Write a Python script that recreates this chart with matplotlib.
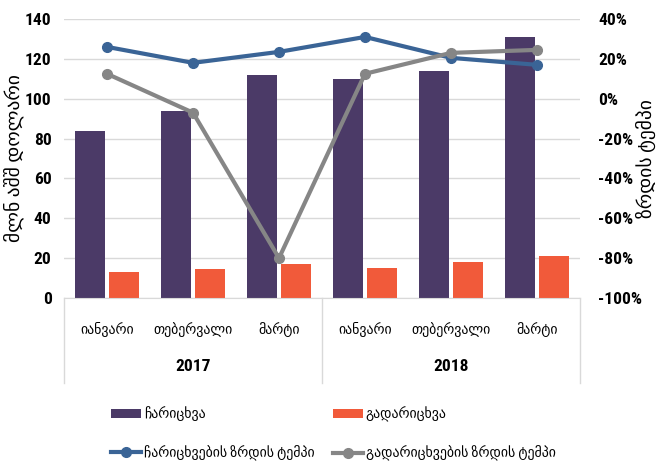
import matplotlib
matplotlib.use("Agg")
import matplotlib.pyplot as plt
from matplotlib import font_manager as fm
import numpy as np

installed = {f.name for f in fm.fontManager.ttflist}
num_font = next((n for n in ["Roboto Condensed", "PT Sans Narrow", "Archivo Narrow",
                             "Liberation Sans Narrow", "Liberation Sans"] if n in installed),
                "DejaVu Sans")
plt.rcParams['font.family'] = [num_font, 'DejaVu Sans']
plt.rcParams['font.size'] = 10

months = ["იანვარი", "თებერვალი", "მარტი", "იანვარი", "თებერვალი", "მარტი"]
years = ["2017", "2018"]
inflow = [84, 94, 112, 110, 114, 131]
outflow = [13, 14.5, 17, 15, 18, 21]
inflow_growth = [26, 18, 23.5, 31, 20.5, 17]
outflow_growth = [12.5, -7, -80, 12.5, 23, 24.5]

purple = "#4B3A67"
orange = "#F15A3A"
blue = "#3A6496"
gray = "#868686"

fig = plt.figure(figsize=(6.57, 4.70), dpi=100)
ax = fig.add_axes([64/657, 1-298/470, (580-64)/657, (298-19)/470])
ax2 = ax.twinx()

x = np.arange(len(months))
w = 0.35
b1 = ax.bar(x - 0.2, inflow, w, color=purple, zorder=2)
b2 = ax.bar(x + 0.2, outflow, w, color=orange, zorder=2)
l1, = ax2.plot(x, inflow_growth, color=blue, lw=3, marker="o", ms=7)
l2, = ax2.plot(x, outflow_growth, color=gray, lw=3, marker="o", ms=7)

ax.set_xlim(-0.5, 5.5)
ax.set_ylim(0, 140)
ax.set_yticks(range(0, 141, 20))
ax2.set_ylim(-100, 40)
ax2.set_yticks(range(-100, 41, 20))
ax2.set_yticklabels([f"{v}%" for v in range(-100, 41, 20)])

ax.grid(axis="y", color="#D9D9D9", lw=1, zorder=0)
for a in (ax, ax2):
    for s in a.spines.values():
        s.set_visible(False)
    a.tick_params(length=0, labelsize=12.5)
ax.spines["bottom"].set_visible(True)
ax.spines["bottom"].set_color("#D9D9D9")
ax.tick_params(axis="y", pad=9)
ax2.tick_params(axis="y", pad=13)
for lab in ax.get_yticklabels() + ax2.get_yticklabels():
    lab.set_fontweight("bold")

ax.set_xticks(x)
ax.set_xticklabels(months, fontsize=10)
ax.tick_params(axis="x", pad=17)

# year level and separators
for i, yr in enumerate(years):
    ax.text(1 + 3 * i, -0.245, yr, transform=ax.get_xaxis_transform(),
            ha="center", va="center", fontsize=12.5, fontweight="bold")
for xs in (-0.5, 2.5, 5.5):
    ax.plot([xs, xs], [0, -0.305], transform=ax.get_xaxis_transform(),
            color="#D9D9D9", lw=1, clip_on=False)

ax.set_ylabel("მლნ აშშ დოლარი", fontsize=14)
ax.yaxis.set_label_coords(-0.078, 0.5)
ax2.set_ylabel("ზრდის ტემპი", fontsize=14, rotation=90)
ax2.yaxis.set_label_coords(1.108, 0.5)

fig.legend([b1, l1, b2, l2],
           ["ჩარიცხვა", "ჩარიცხვების ზრდის ტემპი", "გადარიცხვა", "გადარიცხვების ზრდის ტემპი"],
           ncol=2, loc="upper left", bbox_to_anchor=(98/657, 1-394/470),
           frameon=False, fontsize=10, handlelength=2.2, handletextpad=0.2,
           columnspacing=1.3, labelspacing=1.7)

fig.savefig("out.png", dpi=100)
